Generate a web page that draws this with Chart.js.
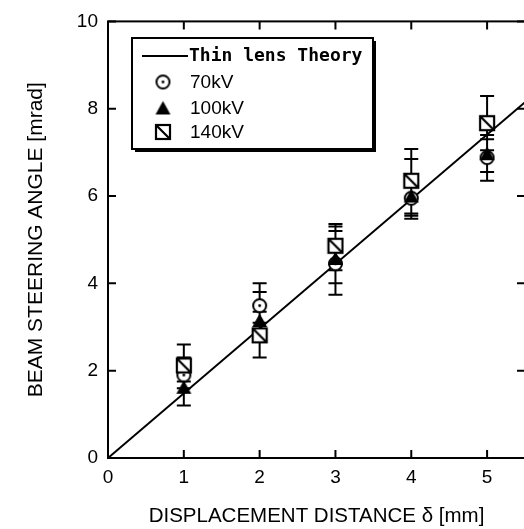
<!DOCTYPE html>
<html lang="en">
<head>
    <meta charset="UTF-8">
    <title>Beam steering angle</title>
    <style>
        html, body { margin: 0; padding: 0; background: #fff; overflow: hidden; }
        #wrap { width: 524px; height: 529px; overflow: hidden; }
    </style>
</head>
<body>
<div id="wrap">
    <canvas id="myChart" width="530" height="529"></canvas>
</div>
<script src="https://cdn.jsdelivr.net/npm/chart.js"></script>
<script>
    // displacement [mm]
    const xValues = [1, 2, 3, 4, 5];

    // 70kV (open circle with dot)
    const kv70 = [1.9, 3.49, 4.45, 5.95, 6.88];
    const kv70Lo = [1.6, 3.1, 3.74, 5.48, 6.35];
    const kv70Hi = [2.3, 4.0, 5.3, 6.85, 7.4];

    // 100kV (filled triangle)
    const kv100 = [1.62, 3.15, 4.57, 6.0, 6.97];
    const kv100Lo = [1.2, 2.8, 4.0, 5.55, 6.55];
    const kv100Hi = [2.0, 3.8, 5.2, 6.4, 7.3];

    // 140kV (square with diagonal)
    const kv140 = [2.12, 2.81, 4.86, 6.35, 7.67];
    const kv140Lo = [1.75, 2.3, 4.3, 5.6, 7.05];
    const kv140Hi = [2.6, 3.35, 5.36, 7.08, 8.29];

    // thin lens theory line
    const theoryX = [0, 5.5];
    const theoryY = [0, 8.15];

    const xTicks = [0, 1, 2, 3, 4, 5];
    const yTicks = [0, 2, 4, 6, 8, 10];

    const FONT = "'Liberation Sans', Arial, sans-serif";

    function makeCanvas(size, draw) {
        const c = document.createElement('canvas');
        c.width = size; c.height = size;
        draw(c.getContext('2d'), size);
        return c;
    }

    const circleImg = makeCanvas(17, (g, s) => {
        g.fillStyle = '#fff'; g.strokeStyle = '#000'; g.lineWidth = 2;
        g.beginPath(); g.arc(s / 2, s / 2, 6.5, 0, Math.PI * 2); g.fill(); g.stroke();
        g.fillStyle = '#000';
        g.beginPath(); g.arc(s / 2, s / 2, 1.4, 0, Math.PI * 2); g.fill();
    });
    const triImg = makeCanvas(17, (g, s) => {
        g.fillStyle = '#000';
        g.beginPath(); g.moveTo(s / 2, 1.5); g.lineTo(s - 1, s - 2); g.lineTo(1, s - 2); g.closePath(); g.fill();
    });
    const squareImg = makeCanvas(18, (g, s) => {
        g.fillStyle = '#fff'; g.strokeStyle = '#000'; g.lineWidth = 2.2;
        g.fillRect(2, 2, s - 4, s - 4); g.strokeRect(2, 2, s - 4, s - 4);
        g.beginPath(); g.moveTo(2, 2); g.lineTo(s - 2, s - 2); g.stroke();
    });

    const pts = (xs, ys) => xs.map((x, i) => ({ x: x, y: ys[i] }));

    // order: lower value is drawn on top
    const series = [
        { label: '70kV', y: kv70, lo: kv70Lo, hi: kv70Hi, img: circleImg, order: 3 },
        { label: '100kV', y: kv100, lo: kv100Lo, hi: kv100Hi, img: triImg, order: 2 },
        { label: '140kV', y: kv140, lo: kv140Lo, hi: kv140Hi, img: squareImg, order: 1 }
    ];

    const errorBars = {
        id: 'errorBars',
        beforeDatasetsDraw(chart) {
            const ctx = chart.ctx, sx = chart.scales.x, sy = chart.scales.y;
            ctx.save();
            ctx.strokeStyle = '#000'; ctx.lineWidth = 2;
            ctx.beginPath();
            series.forEach(s => {
                xValues.forEach((xv, i) => {
                    const px = sx.getPixelForValue(xv);
                    const lo = sy.getPixelForValue(s.lo[i]), hi = sy.getPixelForValue(s.hi[i]);
                    ctx.moveTo(px, lo); ctx.lineTo(px, hi);
                    ctx.moveTo(px - 7, lo); ctx.lineTo(px + 7, lo);
                    ctx.moveTo(px - 7, hi); ctx.lineTo(px + 7, hi);
                });
            });
            ctx.stroke();
            ctx.restore();
        }
    };

    const frameAndLegend = {
        id: 'frameAndLegend',
        afterDraw(chart) {
            const ctx = chart.ctx, a = chart.chartArea, sx = chart.scales.x, sy = chart.scales.y;
            ctx.save();
            ctx.strokeStyle = '#000'; ctx.lineWidth = 2;
            ctx.strokeRect(a.left, a.top, a.right - a.left, a.bottom - a.top);
            ctx.beginPath();
            xTicks.forEach(v => {
                const px = sx.getPixelForValue(v);
                ctx.moveTo(px, a.bottom); ctx.lineTo(px, a.bottom - 8);
                ctx.moveTo(px, a.top); ctx.lineTo(px, a.top + 8);
            });
            yTicks.forEach(v => {
                const py = sy.getPixelForValue(v);
                ctx.moveTo(a.left, py); ctx.lineTo(a.left + 8, py);
                ctx.moveTo(a.right, py); ctx.lineTo(a.right - 8, py);
            });
            ctx.stroke();

            // legend box
            const bx = 132, by = 38, bw = 241, bh = 111;
            ctx.fillStyle = '#000';
            ctx.fillRect(bx + 3, by + 3, bw, bh);
            ctx.fillStyle = '#fff';
            ctx.fillRect(bx, by, bw, bh);
            ctx.lineWidth = 2;
            ctx.strokeRect(bx, by, bw, bh);

            ctx.beginPath(); ctx.moveTo(142, 56); ctx.lineTo(188, 56); ctx.stroke();
            ctx.fillStyle = '#000';
            ctx.textBaseline = 'middle';
            ctx.font = "bold 18px 'DejaVu Sans Mono', 'Liberation Mono', monospace";
            ctx.fillText('Thin lens Theory', 189, 56);
            ctx.font = '19px ' + FONT;
            const rows = [82, 108, 132];
            series.forEach((s, i) => {
                ctx.drawImage(s.img, 163 - s.img.width / 2, rows[i] - s.img.height / 2);
                ctx.fillText(s.label, 190, rows[i] + 1);
            });
            ctx.restore();
        }
    };

    const datasets = series.map(s => ({
        label: s.label,
        data: pts(xValues, s.y),
        pointStyle: s.img,
        showLine: false,
        order: s.order
    }));
    datasets.push({
        label: 'Thin lens Theory',
        data: pts(theoryX, theoryY),
        showLine: true,
        borderColor: '#000',
        borderWidth: 2,
        pointRadius: 0,
        order: 4
    });

    const ctx = document.getElementById('myChart');
    const myChart = new Chart(ctx, {
        type: 'scatter',
        data: { datasets: datasets },
        options: {
            responsive: false,
            animation: false,
            layout: { padding: { top: 20, right: 4, left: 0, bottom: 0 } },
            plugins: { legend: { display: false }, tooltip: { enabled: false } },
            scales: {
                x: {
                    type: 'linear', min: 0, max: 5.5,
                    grid: { display: false, drawTicks: false },
                    border: { display: false },
                    ticks: {
                        stepSize: 1, includeBounds: false, padding: 8, color: '#000',
                        font: { family: FONT, size: 19 }, maxRotation: 0
                    },
                    title: {
                        display: true, text: 'DISPLACEMENT DISTANCE \u03B4 [mm]', color: '#000',
                        font: { family: FONT, size: 20.5 }, padding: 0
                    },
                    afterFit(scale) { scale.height = 71; }
                },
                y: {
                    min: 0, max: 10,
                    grid: { display: false, drawTicks: false },
                    border: { display: false },
                    ticks: {
                        stepSize: 2, padding: 10, color: '#000',
                        font: { family: FONT, size: 19 }
                    },
                    title: {
                        display: true, text: 'BEAM STEERING ANGLE [mrad]', color: '#000',
                        font: { family: FONT, size: 21 }, padding: { top: 24, bottom: 0 }
                    },
                    afterFit(scale) { scale.width = 108; }
                }
            }
        },
        plugins: [errorBars, frameAndLegend]
    });
</script>
</body>
</html>
